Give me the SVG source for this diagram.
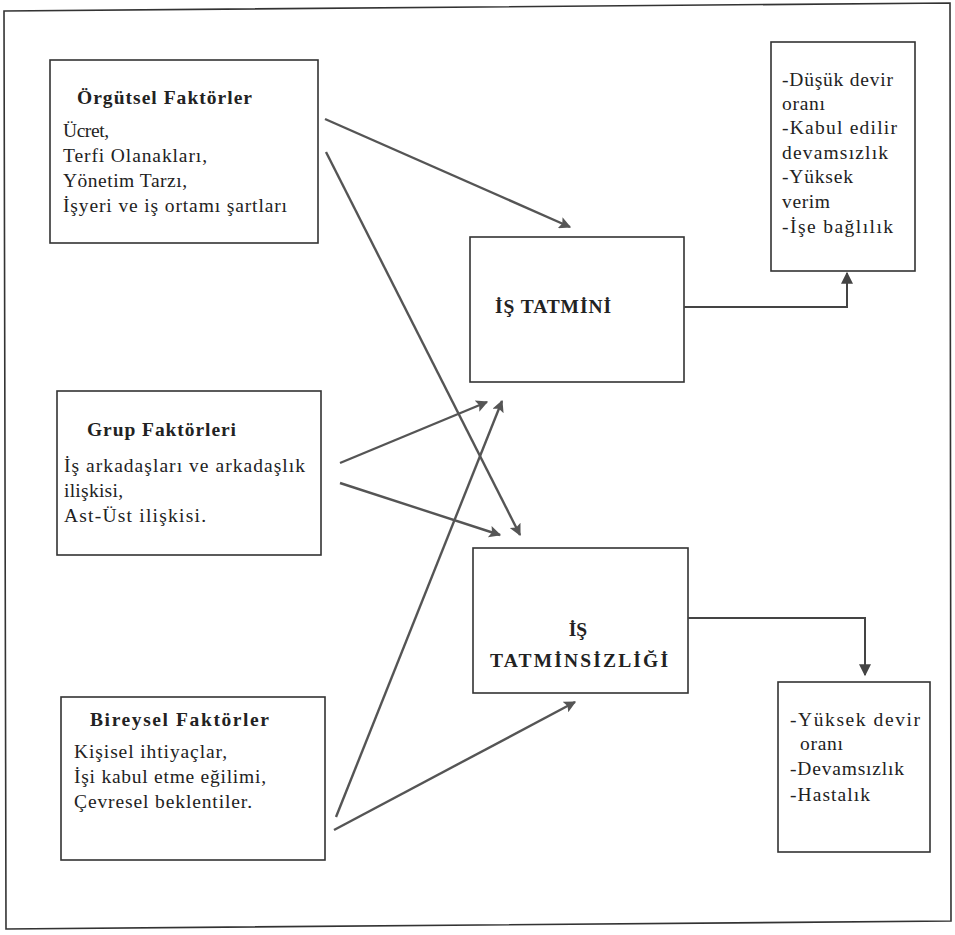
<svg xmlns="http://www.w3.org/2000/svg" width="955" height="935" viewBox="0 0 955 935">
<defs>
<style>
.box{fill:#fff;stroke:#333;stroke-width:1.6}
.t{font-size:19.5px;fill:#222}
.b{font-weight:bold}
.c{stroke:#555;stroke-width:2.4;fill:none}
.e{stroke:#444;stroke-width:2;fill:none}
</style>
<marker id="ah" viewBox="0 0 10 10" refX="9" refY="5" markerWidth="6" markerHeight="5" orient="auto" markerUnits="strokeWidth">
<path d="M0,0 L10,5 L0,10 L2,5 Z" fill="#555"/>
</marker>
<marker id="ah2" viewBox="0 0 10 10" refX="9" refY="5" markerWidth="7" markerHeight="6" orient="auto" markerUnits="strokeWidth">
<path d="M0,0 L10,5 L0,10 Z" fill="#444"/>
</marker>
</defs>
<rect width="955" height="935" fill="#fff"/>
<polygon points="4,11 950,3 951,921 6,929" fill="none" stroke="#333" stroke-width="1.6"/>

<g font-family="'Liberation Serif', 'Times New Roman', 'DejaVu Serif', serif">
<g id="orgutsel">
<rect class="box" x="50" y="60" width="268" height="183"/>
<text class="t b" x="77" y="104" textLength="175">Örgütsel Faktörler</text>
<text class="t" x="63" y="137" textLength="46">Ücret,</text>
<text class="t" x="63" y="162" textLength="144">Terfi Olanakları,</text>
<text class="t" x="63" y="187" textLength="124">Yönetim Tarzı,</text>
<text class="t" x="63" y="212" textLength="224">İşyeri ve iş ortamı şartları</text>
</g>

<g id="grup">
<rect class="box" x="57" y="391" width="264" height="164"/>
<text class="t b" x="87" y="436" textLength="149">Grup Faktörleri</text>
<text class="t" x="64" y="472" textLength="241">İş arkadaşları ve arkadaşlık</text>
<text class="t" x="64" y="497" textLength="59">ilişkisi,</text>
<text class="t" x="64" y="522" textLength="142">Ast-Üst ilişkisi.</text>
</g>

<g id="bireysel">
<rect class="box" x="61" y="697" width="264" height="163"/>
<text class="t b" x="90" y="726" textLength="179">Bireysel Faktörler</text>
<text class="t" x="74" y="758" textLength="153">Kişisel ihtiyaçlar,</text>
<text class="t" x="74" y="783" textLength="192">İşi kabul etme eğilimi,</text>
<text class="t" x="74" y="808" textLength="178">Çevresel beklentiler.</text>
</g>

<g id="tatmin">
<rect class="box" x="470" y="237" width="214" height="145"/>
<text class="t b" x="495" y="313" textLength="116">İŞ TATMİNİ</text>
</g>

<g id="tatminsizlik">
<rect class="box" x="473" y="548" width="215" height="145"/>
<text class="t b" x="578" y="636" text-anchor="middle">İŞ</text>
<text class="t b" x="490" y="667" textLength="178">TATMİNSİZLİĞİ</text>
</g>

<g id="sonuc-olumlu">
<rect class="box" x="771" y="42" width="144" height="229"/>
<text class="t" x="782" y="86" textLength="111">-Düşük devir</text>
<text class="t" x="782" y="110" textLength="43">oranı</text>
<text class="t" x="782" y="134" textLength="115">-Kabul edilir</text>
<text class="t" x="782" y="159" textLength="106">devamsızlık</text>
<text class="t" x="782" y="183" textLength="71">-Yüksek</text>
<text class="t" x="782" y="208" textLength="48">verim</text>
<text class="t" x="782" y="233" textLength="111">-İşe bağlılık</text>
</g>

<g id="sonuc-olumsuz">
<rect class="box" x="778" y="682" width="152" height="170"/>
<text class="t" x="790" y="726" textLength="130">-Yüksek devir</text>
<text class="t" x="800" y="750" textLength="43">oranı</text>
<text class="t" x="790" y="775" textLength="114">-Devamsızlık</text>
<text class="t" x="790" y="801" textLength="80">-Hastalık</text>
</g>
</g>

<g id="connectors">
<line class="c" x1="325" y1="119" x2="570" y2="227" marker-end="url(#ah)"/>
<line class="c" x1="326" y1="152" x2="520" y2="535" marker-end="url(#ah)"/>
<line class="c" x1="340" y1="463" x2="487" y2="402" marker-end="url(#ah)"/>
<line class="c" x1="340" y1="483" x2="500" y2="535" marker-end="url(#ah)"/>
<line class="c" x1="336" y1="817" x2="502" y2="401" marker-end="url(#ah)"/>
<line class="c" x1="334" y1="830" x2="575" y2="702" marker-end="url(#ah)"/>
<polyline class="e" points="684,307 847,307 847,273" marker-end="url(#ah2)"/>
<polyline class="e" points="688,618 865,618 865,675" marker-end="url(#ah2)"/>
</g>
</svg>
